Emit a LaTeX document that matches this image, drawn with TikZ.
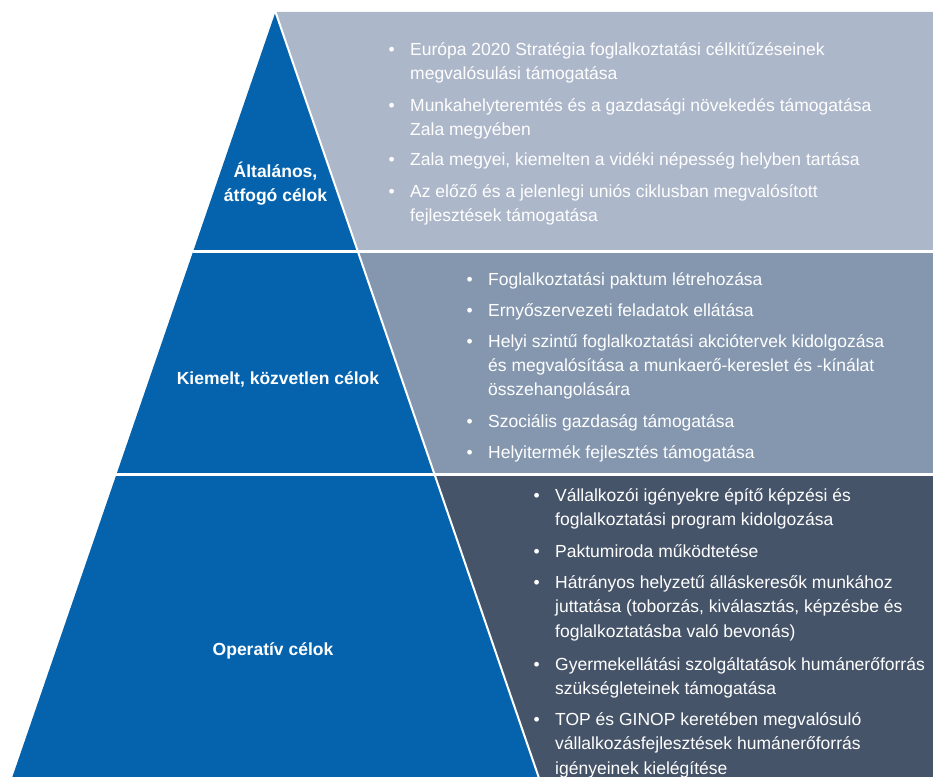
\documentclass[tikz,border=0pt]{standalone}
\usepackage{fontspec}
\setmainfont{Liberation Sans}
\definecolor{pyrblue}{HTML}{0563AE}
\definecolor{bandA}{HTML}{ADB7CA}
\definecolor{bandB}{HTML}{8597AF}
\definecolor{bandC}{HTML}{465469}
\newcommand{\blt}[1]{\parbox[t]{540pt}{\fontsize{17.5}{24.4}\selectfont\hangindent=22pt\hangafter=1\noindent\makebox[22pt][l]{\hspace{0.3pt}•}#1}}
\newcommand{\lbl}[1]{\begin{tabular}[t]{@{}c@{}}#1\end{tabular}}
\tikzset{
  itemtext/.style={anchor=base west, inner sep=0pt, text=white},
  labeltext/.style={anchor=base, inner sep=0pt, text=white, font=\bfseries\fontsize{17.5}{24}\selectfont},
  gap/.style={draw=white, line width=3pt},
  edgeline/.style={draw=white, line width=2pt},
}
\begin{document}
\begin{tikzpicture}[x=1pt,y=-1pt]
\useasboundingbox (0,0) rectangle (933,776);
\clip (0,0) rectangle (933,776);
% key points of the pyramid
\coordinate (apex) at (275.5,12);
\coordinate (L1) at (193.3,251);
\coordinate (R1) at (357.7,251);
\coordinate (L2) at (116.4,474.5);
\coordinate (R2) at (434.6,474.5);
\coordinate (L3) at (7.9,790);
\coordinate (R3) at (543.1,790);
\coordinate (E0) at (933,12);
\coordinate (E1) at (933,251);
\coordinate (E2) at (933,474.5);
\coordinate (E3) at (933,790);
% gray bands
\fill[bandA] (apex) -- (E0) -- (E1) -- (R1) -- cycle;
\fill[bandB] (R1) -- (E1) -- (E2) -- (R2) -- cycle;
\fill[bandC] (R2) -- (E2) -- (E3) -- (R3) -- cycle;
% blue pyramid
\fill[pyrblue] (apex) -- (R3) -- (L3) -- cycle;
% white separators
\draw[gap] (L1) -- (E1);
\draw[gap] (L2) -- (E2);
\draw[edgeline] (apex) -- (R3);
% labels
\node[labeltext] (lab1) at (275.5,177.5) {\lbl{Általános,\\átfogó célok}};
\node[labeltext] (lab2) at (278,384.5) {Kiemelt, közvetlen célok};
\node[labeltext] (lab3) at (273,655) {Operatív célok};
% band 1
\node[itemtext] (a1) at (388,55.5) {\blt{Európa 2020 Stratégia foglalkoztatási célkitűzéseinek\\megvalósulási támogatása}};
\node[itemtext] (a2) at (388,111) {\blt{Munkahelyteremtés és a gazdasági növekedés támogatása\\Zala megyében}};
\node[itemtext] (a3) at (388,165.5) {\blt{Zala megyei, kiemelten a vidéki népesség helyben tartása}};
\node[itemtext] (a4) at (388,197) {\blt{Az előző és a jelenlegi uniós ciklusban megvalósított\\fejlesztések támogatása}};
% band 2
\node[itemtext] (b1) at (466,285) {\blt{Foglalkoztatási paktum létrehozása}};
\node[itemtext] (b2) at (466,316) {\blt{Ernyőszervezeti feladatok ellátása}};
\node[itemtext] (b3) at (466,347) {\blt{Helyi szintű foglalkoztatási akciótervek kidolgozása\\és megvalósítása a munkaerő-kereslet és -kínálat\\összehangolására}};
\node[itemtext] (b4) at (466,427) {\blt{Szociális gazdaság támogatása}};
\node[itemtext] (b5) at (466,458) {\blt{Helyitermék fejlesztés támogatása}};
% band 3
\node[itemtext] (c1) at (533,501.5) {\blt{Vállalkozói igényekre építő képzési és\\foglalkoztatási program kidolgozása}};
\node[itemtext] (c2) at (533,557.5) {\blt{Paktumiroda működtetése}};
\node[itemtext] (c3) at (533,588.5) {\blt{Hátrányos helyzetű álláskeresők munkához\\juttatása (toborzás, kiválasztás, képzésbe és\\foglalkoztatásba való bevonás)}};
\node[itemtext] (c4) at (533,670.5) {\blt{Gyermekellátási szolgáltatások humánerőforrás\\szükségleteinek támogatása}};
\node[itemtext] (c5) at (533,725.5) {\blt{TOP és GINOP keretében megvalósuló\\vállalkozásfejlesztések humánerőforrás\\igényeinek kielégítése}};
\end{tikzpicture}
\end{document}
